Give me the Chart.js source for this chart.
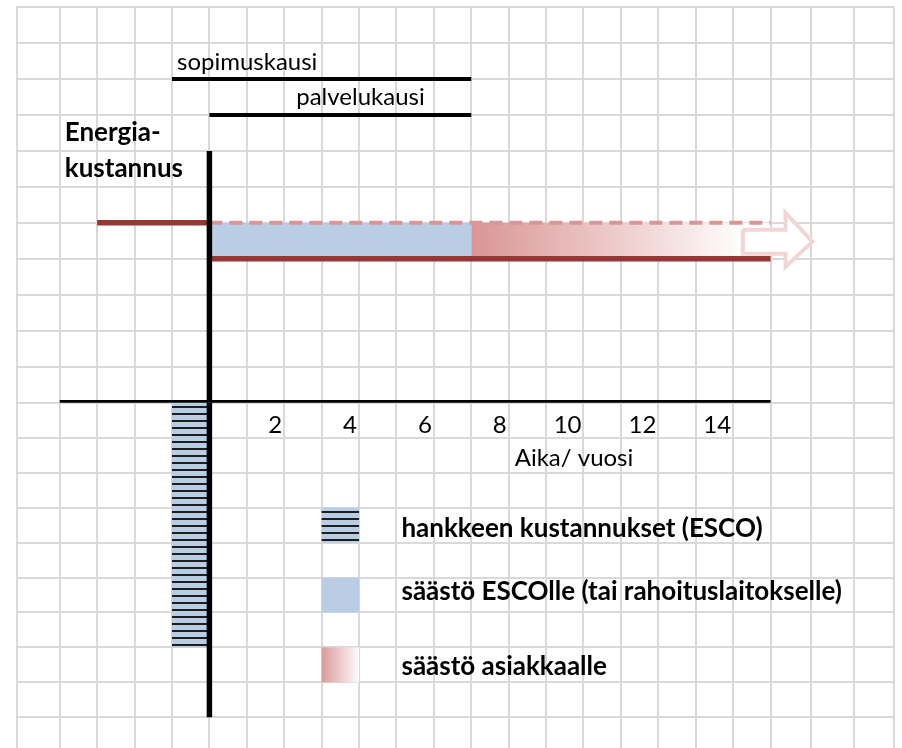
<!DOCTYPE html>
<html><head><meta charset="utf-8">
<script src="https://cdn.jsdelivr.net/npm/chart.js@4"></script>
<style>html,body{margin:0;padding:0;background:#fff;overflow:hidden}</style>
</head><body>
<canvas id="c" width="902" height="748" style="display:block;width:902px;height:748px"></canvas>
<script>
// ---------- values (x = years, y = grid rows) ----------
const xTickValues = [2, 4, 6, 8, 10, 12, 14];
const xTickLabels = ['2', '4', '6', '8', '10', '12', '14'];
const costLevels = [5, 4];            // energy cost before / after the project
const baselineYears = [-3, 0];        // original cost before the project
const horizonYears = [0, 15];         // years shown after the project
const escoYears = [0, 7];             // savings to ESCO
const customerYears = [7, 15];        // savings to customer
const contractYears = [-1, 7];        // sopimuskausi
const serviceYears = [0, 7];          // palvelukausi
const periodLevels = [9, 8];
const periodLabels = ['sopimuskausi', 'palvelukausi'];
const investmentYears = [-1, 0];
const investmentCost = [0, -7];       // project cost bar (below axis)
const axisXRange = [-4, 15];
const axisYRange = [7, -9];
const arrowXs = [14.26, 15.4, 16.12]; // shaft start, head base, tip
const arrowYs = [5.28, 4.81, 4.14, 3.78]; // head top, shaft top, shaft bottom, head bottom
const yTitle = ['Energia-', 'kustannus'];
const xTitle = 'Aika/ vuosi';
const legendLabels = ['hankkeen kustannukset (ESCO)', 'säästö ESCOlle (tai rahoituslaitokselle)', 'säästö asiakkaalle'];

// ---------- styles ----------
const BLUE = '#b9cde5', DARKRED = '#953735', PINK = '#d99694', GRID = '#d9d9d9';
const FONT = 'Lato';
const REG = '24px ' + FONT, BOLD = 'bold 26px ' + FONT;
Chart.defaults.font.family = FONT;

const canvas = document.getElementById('c');
const mainCtx = canvas.getContext('2d');
function makeHatch() {
  const c = document.createElement('canvas');
  c.width = 8; c.height = 7;
  const g = c.getContext('2d');
  g.fillStyle = BLUE; g.fillRect(0, 0, 8, 7);
  g.fillStyle = '#1e1e1e'; g.fillRect(0, 0, 8, 2);
  return mainCtx.createPattern(c, 'repeat');
}
const hatch = makeHatch();

function redGradient(ctx, x0, x1) {
  const g = ctx.createLinearGradient(x0, 0, x1, 0);
  g.addColorStop(0, PINK);
  g.addColorStop(0.5, '#ecc9c8');
  g.addColorStop(1, '#ffffff');
  return g;
}

const pts = (xs, ys) => xs.map((x, i) => ({x, y: ys[i]}));
const base = {pointRadius: 0, pointHoverRadius: 0, tension: 0, fill: false, borderCapStyle: 'butt', borderJoinStyle: 'miter'};

const arrowPoly = [
  {x: arrowXs[0], y: arrowYs[1]}, {x: arrowXs[1], y: arrowYs[1]}, {x: arrowXs[1], y: arrowYs[0]},
  {x: arrowXs[2], y: (arrowYs[1] + arrowYs[2]) / 2},
  {x: arrowXs[1], y: arrowYs[3]}, {x: arrowXs[1], y: arrowYs[2]}, {x: arrowXs[0], y: arrowYs[2]},
  {x: arrowXs[0], y: arrowYs[1]}
];

const datasets = [
  Object.assign({}, base, {label: legendLabels[1], data: pts(escoYears, [costLevels[0], costLevels[0]]), yAxisID: 'yTop',
    fill: {value: costLevels[1]}, backgroundColor: BLUE, borderWidth: 0, order: 20}),
  Object.assign({}, base, {label: legendLabels[2], data: pts(customerYears, [costLevels[0], costLevels[0]]), yAxisID: 'yTop',
    fill: {value: costLevels[1]}, borderWidth: 0, order: 19,
    backgroundColor: (c) => {
      const ch = c.chart, xs = ch.scales.x;
      if (!ch.chartArea || !xs) return PINK;
      return redGradient(ch.ctx, xs.getPixelForValue(customerYears[0]), xs.getPixelForValue(arrowXs[0] + 0.1));
    }}),
  Object.assign({}, base, {label: legendLabels[0], data: pts(investmentYears, [investmentCost[1], investmentCost[1]]), yAxisID: 'yBot',
    fill: {value: investmentCost[0]}, backgroundColor: hatch, borderWidth: 0, order: 18}),
  Object.assign({}, base, {data: arrowPoly, yAxisID: 'yTop', fill: 'shape', backgroundColor: '#ffffff',
    borderColor: '#f2d6d6', borderWidth: 4, order: 17}),
  Object.assign({}, base, {data: pts(horizonYears, [costLevels[0], costLevels[0]]), yAxisID: 'yTop',
    borderColor: PINK, borderWidth: 4, borderDash: [13, 7], order: 16}),
  Object.assign({}, base, {data: pts(baselineYears, [costLevels[0], costLevels[0]]), yAxisID: 'yTop',
    borderColor: DARKRED, borderWidth: 5.5, order: 15}),
  Object.assign({}, base, {data: pts(horizonYears, [costLevels[1], costLevels[1]]), yAxisID: 'yTop',
    borderColor: DARKRED, borderWidth: 5.5, order: 14}),
  Object.assign({}, base, {data: pts(axisXRange, [0, 0]), yAxisID: 'yTop', borderColor: '#000', borderWidth: 5.5, order: 5}),
  Object.assign({}, base, {data: pts([0, 0], [axisYRange[0], 0]), yAxisID: 'yTop', borderColor: '#000', borderWidth: 5.5, order: 4}),
  Object.assign({}, base, {data: pts([0, 0], [0, axisYRange[1]]), yAxisID: 'yBot', borderColor: '#000', borderWidth: 5.5, order: 4}),
  Object.assign({}, base, {data: pts(contractYears, [periodLevels[0], periodLevels[0]]), yAxisID: 'yTop', borderColor: '#000', borderWidth: 4, order: 3}),
  Object.assign({}, base, {data: pts(serviceYears, [periodLevels[1], periodLevels[1]]), yAxisID: 'yTop', borderColor: '#000', borderWidth: 4, order: 3})
];

const textPlugin = {
  id: 'texts',
  afterDraw(chart) {
    const ctx = chart.ctx, X = (v) => chart.scales.x.getPixelForValue(v);
    const YT = (v) => chart.scales.yTop.getPixelForValue(v), YB = (v) => chart.scales.yBot.getPixelForValue(v);
    ctx.save();
    ctx.fillStyle = '#000'; ctx.textAlign = 'left'; ctx.textBaseline = 'alphabetic';
    ctx.font = REG;
    ctx.fillText(periodLabels[0], X(contractYears[0]) + 5, YT(periodLevels[0]) - 9);
    ctx.fillText(periodLabels[1], X(2) + 12, YT(periodLevels[1]) - 10);
    ctx.fillText(xTitle, X(8) + 6, YB(-2) - 7);
    ctx.font = BOLD;
    ctx.fillText(yTitle[0], X(axisXRange[0]) + 5, YT(7) - 10);
    ctx.fillText(yTitle[1], X(axisXRange[0]) + 5, YT(6) - 10);
    // legend
    const rows = [-3, -5, -7], offs = [6, 12, 7];
    const x0 = X(3), x1 = X(4);
    rows.forEach((r, i) => {
      const y0 = YB(r), y1 = YB(r - 1);
      if (i === 0) ctx.fillStyle = hatch;
      else if (i === 1) ctx.fillStyle = BLUE;
      else ctx.fillStyle = redGradient(ctx, x0 - 2, x1 + 1);
      ctx.fillRect(x0, y0, x1 - x0, y1 - y0);
      ctx.fillStyle = '#000';
      ctx.fillText(legendLabels[i], X(5) + 5, y1 - offs[i]);
    });
    ctx.restore();
  }
};

new Chart(canvas, {
  type: 'line',
  data: {datasets},
  options: {
    responsive: false, animation: false, events: [], devicePixelRatio: 1,
    layout: {padding: {left: 17, top: 7, right: 5, bottom: 0}},
    plugins: {legend: {display: false}, tooltip: {enabled: false}, title: {display: false}},
    scales: {
      x: {
        type: 'linear', min: -5.143, max: 18.3, position: {yTop: 0},
        afterBuildTicks: (s) => {
          const t = [];
          for (let v = axisXRange[0]; v <= axisXRange[1]; v++) t.push({value: v});
          t.push({value: 16.09}, {value: 17.24}, {value: s.max});
          s.ticks = t;
        },
        afterFit: (s) => { s.height = 0; },
        grid: {color: GRID, lineWidth: 2, drawTicks: false},
        border: {display: false},
        ticks: {autoSkip: false, maxRotation: 0, align: 'end', labelOffset: -2, padding: 8, color: '#000',
          font: {size: 24, family: FONT},
          callback: (v) => { const i = xTickValues.indexOf(v); return i >= 0 ? xTickLabels[i] : ''; }}
      },
      yTop: {
        axis: 'y', type: 'linear', position: 'left', stack: 'v', stackWeight: 395.7, weight: 2,
        min: 0, max: 11,
        afterBuildTicks: (s) => { const t = []; for (let v = 0; v <= 11; v++) t.push({value: v}); s.ticks = t; },
        afterFit: (s) => { s.width = 0; },
        grid: {color: GRID, lineWidth: 2, drawTicks: false},
        border: {display: true, color: GRID, width: 2},
        ticks: {display: false}
      },
      yBot: {
        axis: 'y', type: 'linear', position: 'left', stack: 'v', stackWeight: 345.3, weight: 1,
        min: -9.877, max: 0,
        afterBuildTicks: (s) => { const t = []; for (let v = -9; v <= -1; v++) t.push({value: v}); s.ticks = t; },
        afterFit: (s) => { s.width = 0; },
        grid: {color: GRID, lineWidth: 2, drawTicks: false},
        border: {display: true, color: GRID, width: 2},
        ticks: {display: false}
      }
    }
  },
  plugins: [textPlugin]
});
</script>
</body></html>
